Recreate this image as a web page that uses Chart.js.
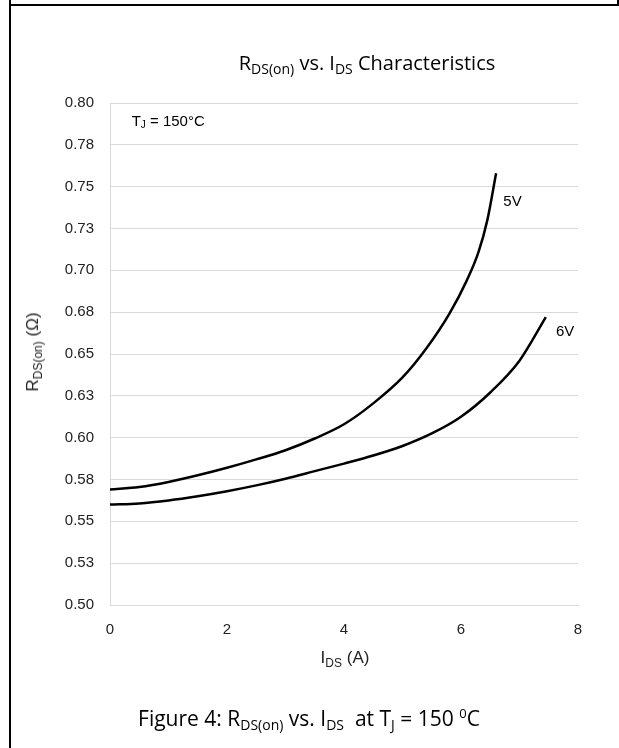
<!DOCTYPE html>
<html>
<head>
<meta charset="utf-8">
<script src="https://cdn.jsdelivr.net/npm/chart.js@4.4.1/dist/chart.umd.min.js"></script>
<style>
  body { margin: 0; background: #fff; }
  #wrap { position: relative; width: 619px; height: 748px; overflow: hidden; }
  #chart { position: absolute; left: 0; top: 0; }
  .line { position: absolute; background: #000; }
  .txt { position: absolute; white-space: nowrap; color: #000; }
  .big { font-family: "Open Sans", "Noto Sans", sans-serif; font-size: 21px; }
  .big sub { font-size: 14px; vertical-align: baseline; position: relative; top: 4px; }
  .big sup { font-size: 13px; vertical-align: baseline; position: relative; top: -8px; }
  .ttl { font-size: 20px; }
  .axt { font-family: "Liberation Sans", Arial, sans-serif; font-size: 17px; color: #222; }
  .axt sub { font-size: 12px; vertical-align: baseline; position: relative; top: 4px; }
</style>
</head>
<body>
<div id="wrap">
  <canvas id="chart" width="619" height="748"></canvas>
  <div class="line" style="left:9px;top:0;width:2px;height:748px"></div>
  <div class="line" style="left:9px;top:4px;width:610px;height:2px"></div>
  <div class="line" style="left:617px;top:0;width:2px;height:5px"></div>

  <div class="txt big ttl" style="left:367px;top:62px;transform:translate(-50%,-50%)">R<sub>DS(on)</sub> vs. I<sub>DS</sub> Characteristics</div>
  <div class="txt axt" style="left:345px;top:658px;transform:translate(-50%,-50%)">I<sub>DS</sub> (A)</div>
  <div class="txt axt" style="left:33px;top:352px;transform:translate(-50%,-50%) rotate(-90deg)">R<sub>DS(on)</sub> (&Omega;)</div>
  <div class="txt big" style="left:309px;top:718px;transform:translate(-50%,-50%)">Figure 4: R<sub>DS(on)</sub> vs. I<sub>DS</sub>&nbsp; at T<sub>J</sub> = 150 <sup>0</sup>C</div>
</div>
<script>
// I_DS in A, R_DS(on) in ohm
const current5V = [0, 0.5, 1.0, 1.5, 2.0, 2.5, 3.0, 3.5, 4.0, 4.5, 5.0, 5.4, 5.8, 6.1, 6.3, 6.45, 6.6];
const rds5V = [0.569, 0.5705, 0.5735, 0.5775, 0.582, 0.587, 0.5925, 0.5995, 0.608, 0.6205, 0.636, 0.653, 0.674, 0.694, 0.711, 0.730, 0.758];

const current6V = [0, 0.5, 1.0, 1.5, 2.0, 2.5, 3.0, 3.5, 4.0, 4.5, 5.0, 5.5, 6.0, 6.5, 7.0, 7.45];
const rds6V = [0.560, 0.5607, 0.5625, 0.565, 0.568, 0.5715, 0.5755, 0.580, 0.5845, 0.5893, 0.595, 0.6025, 0.6125, 0.627, 0.646, 0.672];

const yTickLabels = ["0.50", "0.53", "0.55", "0.58", "0.60", "0.63", "0.65", "0.68", "0.70", "0.73", "0.75", "0.78", "0.80"];
const xTickLabels = ["0", "2", "4", "6", "8"];

const toPoints = (xs, ys) => xs.map((x, i) => ({ x: x, y: ys[i] }));

// curve labels and the T_J note
const notesPlugin = {
  id: "notes",
  afterDatasetsDraw(chart) {
    const ctx = chart.ctx;
    const xs = chart.scales.x;
    const ys = chart.scales.y;
    const font = "15px 'Liberation Sans', Arial, sans-serif";
    ctx.save();
    ctx.fillStyle = "#000";
    ctx.textBaseline = "middle";
    ctx.font = font;
    ctx.textAlign = "center";
    ctx.fillText("5V", xs.getPixelForValue(6.88), ys.getPixelForValue(0.741));
    ctx.fillText("6V", xs.getPixelForValue(7.78), ys.getPixelForValue(0.663));

    ctx.textAlign = "left";
    let px = xs.getPixelForValue(0.37);
    const py = ys.getPixelForValue(0.789);
    ctx.fillText("T", px, py);
    px += ctx.measureText("T").width;
    ctx.font = "10px 'Liberation Sans', Arial, sans-serif";
    ctx.fillText("J", px, py + 4);
    px += ctx.measureText("J").width;
    ctx.font = font;
    ctx.fillText(" = 150°C", px, py);
    ctx.restore();
  }
};

const ctx = document.getElementById("chart").getContext("2d");
const chart = new Chart(ctx, {
  type: "scatter",
  data: {
    datasets: [
      {
        label: "5V",
        data: toPoints(current5V, rds5V),
        showLine: true,
        borderColor: "#000",
        borderWidth: 2.5,
        pointRadius: 0,
        cubicInterpolationMode: "monotone"
      },
      {
        label: "6V",
        data: toPoints(current6V, rds6V),
        showLine: true,
        borderColor: "#000",
        borderWidth: 2.5,
        pointRadius: 0,
        cubicInterpolationMode: "monotone"
      }
    ]
  },
  options: {
    responsive: false,
    animation: false,
    layout: { padding: { left: 0, right: 41, top: 103, bottom: 93 } },
    plugins: {
      legend: { display: false },
      tooltip: { enabled: false }
    },
    scales: {
      x: {
        type: "linear",
        min: 0,
        max: 8,
        afterFit(scale) { scale.height = 50; },
        afterBuildTicks(scale) {
          scale.ticks = xTickLabels.map(v => ({ value: Number(v) }));
        },
        ticks: {
          padding: 8,
          color: "#222",
          font: { family: "'Liberation Sans', Arial, sans-serif", size: 15 },
          callback: (v, i) => xTickLabels[i]
        },
        grid: { display: false },
        border: { display: true, color: "#d9d9d9", width: 1 }
      },
      y: {
        min: 0.5,
        max: 0.8,
        afterFit(scale) { scale.width = 110; },
        afterBuildTicks(scale) {
          scale.ticks = yTickLabels.map((t, i) => ({ value: 0.5 + i * 0.025 }));
        },
        ticks: {
          padding: 16,
          color: "#222",
          font: { family: "'Liberation Sans', Arial, sans-serif", size: 15 },
          callback: (v, i) => yTickLabels[i]
        },
        grid: { color: "#d9d9d9", lineWidth: 1, drawTicks: false },
        border: { display: true, color: "#d9d9d9", width: 1 }
      }
    }
  },
  plugins: [notesPlugin]
});
</script>
</body>
</html>
